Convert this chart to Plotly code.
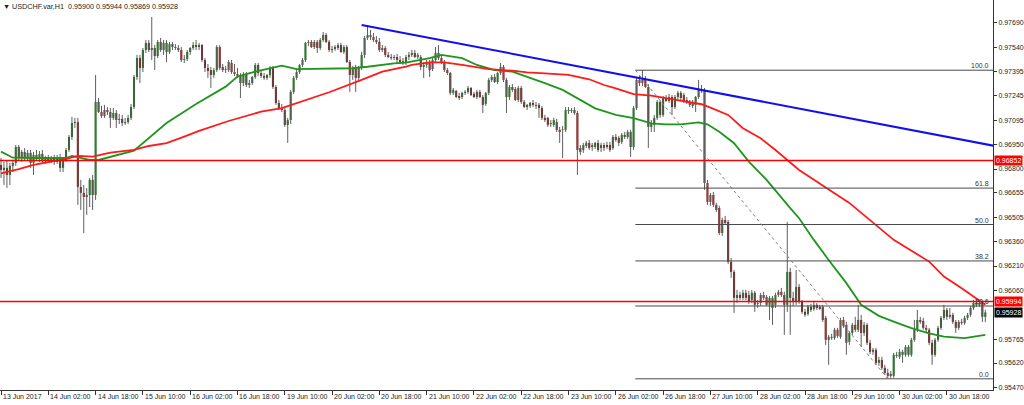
import plotly.graph_objects as go

# ---------------- data (hourly USDCHF candles, bar index 0..333) ----------------
opens = [
    0.96825, 0.96794, 0.96807, 0.96764, 0.96819, 0.96837, 0.96934, 0.96867, 0.96904, 0.96873,
    0.96898, 0.96837, 0.96886, 0.96873, 0.96892, 0.96855, 0.96867, 0.96855, 0.96861, 0.96843,
    0.96867, 0.96807, 0.96855, 0.96916, 0.96995, 0.97080, 0.97086, 0.96691, 0.96655, 0.96630,
    0.96642, 0.96734, 0.96642, 0.97208, 0.97147, 0.97123, 0.97159, 0.97147, 0.97111, 0.97141,
    0.97098, 0.97105, 0.97080, 0.97086, 0.97111, 0.97177, 0.97360, 0.97475, 0.97415, 0.97524,
    0.97567, 0.97524, 0.97536, 0.97487, 0.97573, 0.97524, 0.97567, 0.97512, 0.97560, 0.97542,
    0.97536, 0.97524, 0.97463, 0.97469, 0.97512, 0.97536, 0.97554, 0.97542, 0.97554, 0.97463,
    0.97415, 0.97402, 0.97372, 0.97402, 0.97542, 0.97421, 0.97402, 0.97402, 0.97445, 0.97390,
    0.97378, 0.97366, 0.97323, 0.97378, 0.97311, 0.97323, 0.97360, 0.97433, 0.97384, 0.97366,
    0.97354, 0.97372, 0.97415, 0.97299, 0.97202, 0.97171, 0.97159, 0.97068, 0.97098, 0.97269,
    0.97354, 0.97390, 0.97433, 0.97463, 0.97567, 0.97573, 0.97542, 0.97573, 0.97536, 0.97585,
    0.97615, 0.97573, 0.97524, 0.97530, 0.97536, 0.97554, 0.97512, 0.97542, 0.97451, 0.97372,
    0.97415, 0.97354, 0.97415, 0.97494, 0.97597, 0.97615, 0.97603, 0.97585, 0.97573, 0.97524,
    0.97536, 0.97494, 0.97481, 0.97475, 0.97481, 0.97463, 0.97451, 0.97445, 0.97481, 0.97494,
    0.97506, 0.97481, 0.97481, 0.97421, 0.97433, 0.97451, 0.97408, 0.97463, 0.97506, 0.97475,
    0.97451, 0.97402, 0.97384, 0.97263, 0.97275, 0.97244, 0.97238, 0.97263, 0.97269, 0.97293,
    0.97257, 0.97238, 0.97269, 0.97238, 0.97196, 0.97263, 0.97342, 0.97360, 0.97329, 0.97384,
    0.97421, 0.97342, 0.97238, 0.97299, 0.97287, 0.97220, 0.97293, 0.97208, 0.97177, 0.97184,
    0.97202, 0.97190, 0.97190, 0.97171, 0.97111, 0.97111, 0.97074, 0.97068, 0.97086, 0.97038,
    0.97038, 0.97038, 0.97159, 0.97153, 0.97159, 0.97141, 0.96928, 0.96916, 0.96940, 0.96959,
    0.96934, 0.96934, 0.96959, 0.96928, 0.96928, 0.96946, 0.96946, 0.96928, 0.96995, 0.96989,
    0.96965, 0.97007, 0.96995, 0.97025, 0.96934, 0.97171, 0.97342, 0.97323, 0.97342, 0.97299,
    0.97056, 0.97068, 0.97111, 0.97208, 0.97129, 0.97232, 0.97214, 0.97238, 0.97177, 0.97238,
    0.97263, 0.97250, 0.97220, 0.97208, 0.97202, 0.97190, 0.97238, 0.97281, 0.97275, 0.96715,
    0.96600, 0.96642, 0.96582, 0.96563, 0.96411, 0.96490, 0.96478, 0.96235, 0.96174, 0.96016,
    0.96034, 0.96016, 0.96047, 0.96034, 0.96004, 0.96047, 0.95980, 0.95986, 0.96034, 0.96022,
    0.95974, 0.96016, 0.95974, 0.96034, 0.96053, 0.96034, 0.95974, 0.96174, 0.96016, 0.95992,
    0.96083, 0.95992, 0.95931, 0.95919, 0.95962, 0.95949, 0.95974, 0.95962, 0.95962, 0.95895,
    0.95761, 0.95779, 0.95773, 0.95822, 0.95779, 0.95882, 0.95852, 0.95749, 0.95803, 0.95852,
    0.95822, 0.95882, 0.95803, 0.95852, 0.95743, 0.95688, 0.95700, 0.95621, 0.95639, 0.95591,
    0.95560, 0.95554, 0.95542, 0.95670, 0.95658, 0.95688, 0.95670, 0.95718, 0.95670, 0.95761,
    0.95822, 0.95882, 0.95876, 0.95834, 0.95822, 0.95743, 0.95670, 0.95761, 0.95834, 0.95895,
    0.95943, 0.95901, 0.95913, 0.95870, 0.95834, 0.95870, 0.95864, 0.95895, 0.95913, 0.95955,
    0.95986, 0.95974, 0.95980, 0.95900,
]
highs = [
    0.96867, 0.96843, 0.96855, 0.96837, 0.96855, 0.96946, 0.96946, 0.96916, 0.96928, 0.96916,
    0.96916, 0.96904, 0.96916, 0.96910, 0.96916, 0.96880, 0.96886, 0.96880, 0.96886, 0.96886,
    0.96892, 0.96855, 0.96928, 0.97007, 0.97117, 0.97111, 0.97111, 0.96734, 0.96703, 0.96685,
    0.96746, 0.96764, 0.97372, 0.97232, 0.97184, 0.97190, 0.97177, 0.97171, 0.97171, 0.97159,
    0.97135, 0.97129, 0.97111, 0.97129, 0.97196, 0.97372, 0.97494, 0.97494, 0.97536, 0.97585,
    0.97585, 0.97725, 0.97554, 0.97585, 0.97597, 0.97585, 0.97585, 0.97573, 0.97573, 0.97560,
    0.97554, 0.97542, 0.97494, 0.97524, 0.97542, 0.97573, 0.97585, 0.97567, 0.97560, 0.97475,
    0.97439, 0.97421, 0.97415, 0.97554, 0.97554, 0.97439, 0.97427, 0.97463, 0.97463, 0.97439,
    0.97415, 0.97384, 0.97390, 0.97390, 0.97342, 0.97366, 0.97445, 0.97445, 0.97402, 0.97384,
    0.97378, 0.97427, 0.97427, 0.97311, 0.97220, 0.97196, 0.97171, 0.97111, 0.97281, 0.97366,
    0.97402, 0.97439, 0.97475, 0.97573, 0.97585, 0.97585, 0.97585, 0.97585, 0.97597, 0.97633,
    0.97627, 0.97585, 0.97548, 0.97554, 0.97567, 0.97567, 0.97554, 0.97554, 0.97463, 0.97427,
    0.97433, 0.97427, 0.97512, 0.97609, 0.97676, 0.97646, 0.97627, 0.97609, 0.97597, 0.97554,
    0.97548, 0.97512, 0.97500, 0.97494, 0.97500, 0.97487, 0.97475, 0.97494, 0.97512, 0.97524,
    0.97524, 0.97506, 0.97494, 0.97451, 0.97463, 0.97463, 0.97475, 0.97542, 0.97554, 0.97494,
    0.97463, 0.97415, 0.97390, 0.97293, 0.97281, 0.97263, 0.97269, 0.97281, 0.97305, 0.97299,
    0.97269, 0.97281, 0.97281, 0.97250, 0.97269, 0.97354, 0.97372, 0.97378, 0.97390, 0.97445,
    0.97433, 0.97354, 0.97311, 0.97317, 0.97299, 0.97305, 0.97305, 0.97220, 0.97196, 0.97208,
    0.97220, 0.97208, 0.97202, 0.97184, 0.97129, 0.97117, 0.97098, 0.97111, 0.97105, 0.97056,
    0.97062, 0.97177, 0.97177, 0.97171, 0.97177, 0.97153, 0.96946, 0.96959, 0.96971, 0.96977,
    0.96959, 0.96965, 0.96977, 0.96959, 0.96959, 0.96965, 0.96965, 0.97007, 0.97013, 0.97001,
    0.97019, 0.97025, 0.97038, 0.97038, 0.97184, 0.97354, 0.97366, 0.97402, 0.97366, 0.97317,
    0.97098, 0.97129, 0.97220, 0.97220, 0.97244, 0.97250, 0.97257, 0.97250, 0.97250, 0.97275,
    0.97275, 0.97263, 0.97238, 0.97220, 0.97220, 0.97244, 0.97342, 0.97311, 0.97293, 0.96734,
    0.96655, 0.96661, 0.96594, 0.96576, 0.96503, 0.96515, 0.96490, 0.96259, 0.96186, 0.96065,
    0.96053, 0.96065, 0.96065, 0.96059, 0.96065, 0.96059, 0.96004, 0.96047, 0.96053, 0.96034,
    0.96028, 0.96028, 0.96047, 0.96065, 0.96077, 0.96053, 0.96478, 0.96199, 0.96053, 0.96186,
    0.96101, 0.96004, 0.95949, 0.95974, 0.95980, 0.95992, 0.95986, 0.95974, 0.95974, 0.95907,
    0.95791, 0.95797, 0.95834, 0.95834, 0.95895, 0.95901, 0.95870, 0.95815, 0.95864, 0.95901,
    0.95974, 0.95913, 0.95870, 0.95864, 0.95761, 0.95712, 0.95712, 0.95658, 0.95658, 0.95609,
    0.95585, 0.95572, 0.95682, 0.95688, 0.95706, 0.95700, 0.95730, 0.95730, 0.95773, 0.95882,
    0.95943, 0.95901, 0.95895, 0.95852, 0.95834, 0.95761, 0.95773, 0.95846, 0.95907, 0.95974,
    0.95955, 0.95955, 0.95925, 0.95882, 0.95882, 0.95889, 0.95907, 0.95925, 0.95968, 0.96004,
    0.96004, 0.96004, 0.95992, 0.95944,
]
lows = [
    0.96746, 0.96703, 0.96685, 0.96703, 0.96782, 0.96819, 0.96855, 0.96843, 0.96855, 0.96855,
    0.96807, 0.96764, 0.96855, 0.96843, 0.96837, 0.96831, 0.96837, 0.96837, 0.96825, 0.96831,
    0.96782, 0.96782, 0.96843, 0.96904, 0.96977, 0.97050, 0.96582, 0.96551, 0.96411, 0.96521,
    0.96569, 0.96551, 0.96612, 0.97141, 0.97111, 0.97111, 0.97129, 0.97050, 0.97098, 0.97050,
    0.97074, 0.97062, 0.97068, 0.97074, 0.97098, 0.97165, 0.97342, 0.97323, 0.97390, 0.97506,
    0.97512, 0.97463, 0.97402, 0.97475, 0.97512, 0.97494, 0.97451, 0.97500, 0.97524, 0.97524,
    0.97512, 0.97451, 0.97445, 0.97457, 0.97494, 0.97524, 0.97524, 0.97524, 0.97451, 0.97390,
    0.97354, 0.97293, 0.97354, 0.97390, 0.97402, 0.97390, 0.97384, 0.97390, 0.97378, 0.97366,
    0.97354, 0.97232, 0.97305, 0.97299, 0.97293, 0.97311, 0.97348, 0.97366, 0.97354, 0.97342,
    0.97342, 0.97354, 0.97287, 0.97190, 0.97159, 0.97147, 0.97056, 0.96959, 0.97074, 0.97257,
    0.97342, 0.97378, 0.97421, 0.97451, 0.97548, 0.97536, 0.97530, 0.97506, 0.97524, 0.97573,
    0.97567, 0.97512, 0.97506, 0.97518, 0.97524, 0.97506, 0.97500, 0.97445, 0.97269, 0.97342,
    0.97269, 0.97329, 0.97402, 0.97475, 0.97585, 0.97585, 0.97573, 0.97560, 0.97512, 0.97512,
    0.97481, 0.97475, 0.97463, 0.97463, 0.97445, 0.97439, 0.97433, 0.97433, 0.97463, 0.97481,
    0.97475, 0.97469, 0.97402, 0.97354, 0.97415, 0.97360, 0.97396, 0.97451, 0.97463, 0.97439,
    0.97390, 0.97372, 0.97250, 0.97250, 0.97232, 0.97220, 0.97226, 0.97250, 0.97257, 0.97244,
    0.97232, 0.97226, 0.97232, 0.97141, 0.97184, 0.97250, 0.97329, 0.97323, 0.97317, 0.97372,
    0.97329, 0.97141, 0.97220, 0.97269, 0.97214, 0.97208, 0.97196, 0.97171, 0.97159, 0.97171,
    0.97177, 0.97165, 0.97111, 0.97098, 0.97086, 0.97056, 0.97056, 0.97056, 0.97025, 0.96959,
    0.96867, 0.97025, 0.97135, 0.97141, 0.97129, 0.96764, 0.96886, 0.96898, 0.96928, 0.96916,
    0.96910, 0.96922, 0.96904, 0.96904, 0.96910, 0.96922, 0.96904, 0.96916, 0.96965, 0.96940,
    0.96952, 0.96983, 0.96983, 0.96873, 0.96916, 0.97159, 0.97305, 0.97305, 0.97293, 0.96928,
    0.97025, 0.97025, 0.97098, 0.97111, 0.97117, 0.97208, 0.97202, 0.97129, 0.97165, 0.97226,
    0.97220, 0.97202, 0.97196, 0.97177, 0.97171, 0.97147, 0.97226, 0.97263, 0.96673, 0.96582,
    0.96576, 0.96569, 0.96539, 0.96399, 0.96393, 0.96460, 0.96223, 0.96138, 0.95925, 0.95986,
    0.96004, 0.96004, 0.96004, 0.95980, 0.95986, 0.95931, 0.95955, 0.95968, 0.96004, 0.95968,
    0.95882, 0.95852, 0.95955, 0.96022, 0.96022, 0.95791, 0.95931, 0.95791, 0.95968, 0.95974,
    0.95980, 0.95919, 0.95901, 0.95907, 0.95931, 0.95937, 0.95943, 0.95943, 0.95870, 0.95730,
    0.95609, 0.95761, 0.95761, 0.95773, 0.95767, 0.95834, 0.95670, 0.95730, 0.95791, 0.95809,
    0.95809, 0.95718, 0.95785, 0.95730, 0.95676, 0.95670, 0.95609, 0.95603, 0.95578, 0.95548,
    0.95524, 0.95530, 0.95530, 0.95651, 0.95645, 0.95621, 0.95658, 0.95658, 0.95658, 0.95749,
    0.95809, 0.95858, 0.95822, 0.95809, 0.95730, 0.95609, 0.95658, 0.95749, 0.95822, 0.95882,
    0.95882, 0.95889, 0.95858, 0.95803, 0.95822, 0.95852, 0.95852, 0.95882, 0.95901, 0.95943,
    0.95962, 0.95962, 0.95870, 0.95869,
]
closes = [
    0.96794, 0.96807, 0.96764, 0.96819, 0.96837, 0.96934, 0.96867, 0.96904, 0.96873, 0.96898,
    0.96837, 0.96886, 0.96873, 0.96892, 0.96855, 0.96867, 0.96855, 0.96861, 0.96843, 0.96867,
    0.96807, 0.96855, 0.96916, 0.96995, 0.97080, 0.97086, 0.96691, 0.96655, 0.96630, 0.96642,
    0.96734, 0.96642, 0.97208, 0.97147, 0.97123, 0.97159, 0.97147, 0.97111, 0.97141, 0.97098,
    0.97105, 0.97080, 0.97086, 0.97111, 0.97177, 0.97360, 0.97475, 0.97415, 0.97524, 0.97567,
    0.97524, 0.97536, 0.97487, 0.97573, 0.97524, 0.97567, 0.97512, 0.97560, 0.97542, 0.97536,
    0.97524, 0.97463, 0.97469, 0.97512, 0.97536, 0.97554, 0.97542, 0.97554, 0.97463, 0.97415,
    0.97396, 0.97372, 0.97402, 0.97542, 0.97415, 0.97402, 0.97408, 0.97451, 0.97390, 0.97378,
    0.97366, 0.97323, 0.97378, 0.97311, 0.97323, 0.97360, 0.97433, 0.97384, 0.97366, 0.97354,
    0.97372, 0.97415, 0.97299, 0.97202, 0.97171, 0.97159, 0.97068, 0.97098, 0.97269, 0.97354,
    0.97390, 0.97433, 0.97463, 0.97567, 0.97573, 0.97542, 0.97573, 0.97536, 0.97585, 0.97615,
    0.97573, 0.97524, 0.97530, 0.97542, 0.97554, 0.97512, 0.97542, 0.97451, 0.97372, 0.97415,
    0.97354, 0.97415, 0.97494, 0.97597, 0.97615, 0.97603, 0.97585, 0.97573, 0.97524, 0.97536,
    0.97494, 0.97481, 0.97475, 0.97481, 0.97463, 0.97451, 0.97457, 0.97481, 0.97494, 0.97506,
    0.97481, 0.97494, 0.97421, 0.97433, 0.97445, 0.97402, 0.97463, 0.97506, 0.97475, 0.97445,
    0.97402, 0.97384, 0.97263, 0.97281, 0.97238, 0.97232, 0.97263, 0.97269, 0.97293, 0.97250,
    0.97238, 0.97269, 0.97238, 0.97190, 0.97263, 0.97342, 0.97360, 0.97329, 0.97384, 0.97421,
    0.97342, 0.97238, 0.97299, 0.97281, 0.97220, 0.97293, 0.97208, 0.97177, 0.97190, 0.97202,
    0.97190, 0.97184, 0.97171, 0.97111, 0.97098, 0.97068, 0.97080, 0.97098, 0.97038, 0.97025,
    0.97041, 0.97159, 0.97153, 0.97159, 0.97141, 0.96916, 0.96904, 0.96946, 0.96959, 0.96928,
    0.96946, 0.96959, 0.96916, 0.96946, 0.96946, 0.96934, 0.96916, 0.96995, 0.96977, 0.96959,
    0.97007, 0.96995, 0.97025, 0.96934, 0.97171, 0.97342, 0.97323, 0.97342, 0.97299, 0.97056,
    0.97080, 0.97111, 0.97208, 0.97129, 0.97232, 0.97214, 0.97238, 0.97177, 0.97238, 0.97263,
    0.97232, 0.97208, 0.97202, 0.97190, 0.97184, 0.97238, 0.97281, 0.97275, 0.96715, 0.96600,
    0.96642, 0.96582, 0.96551, 0.96411, 0.96490, 0.96472, 0.96235, 0.96174, 0.96016, 0.96034,
    0.96016, 0.96047, 0.96016, 0.95992, 0.96047, 0.95974, 0.95986, 0.96034, 0.96016, 0.95974,
    0.96016, 0.95955, 0.96034, 0.96053, 0.96034, 0.95974, 0.96174, 0.96016, 0.95992, 0.96083,
    0.95992, 0.95931, 0.95913, 0.95962, 0.95943, 0.95974, 0.95955, 0.95949, 0.95882, 0.95761,
    0.95779, 0.95773, 0.95822, 0.95785, 0.95882, 0.95846, 0.95743, 0.95803, 0.95852, 0.95822,
    0.95882, 0.95803, 0.95852, 0.95743, 0.95688, 0.95700, 0.95621, 0.95639, 0.95591, 0.95560,
    0.95542, 0.95542, 0.95670, 0.95664, 0.95688, 0.95670, 0.95718, 0.95670, 0.95761, 0.95822,
    0.95882, 0.95870, 0.95834, 0.95822, 0.95743, 0.95670, 0.95761, 0.95834, 0.95895, 0.95943,
    0.95901, 0.95913, 0.95870, 0.95834, 0.95870, 0.95864, 0.95895, 0.95913, 0.95955, 0.95986,
    0.95974, 0.95986, 0.95901, 0.95928,
]

# moving averages (sampled at bar indices)
ma_green_idx = [0, 4, 10, 16, 22, 24, 27, 30, 33, 45, 56, 66, 76, 80, 86, 93, 95, 100, 111, 119,
                124, 133, 137, 139, 145, 149, 156, 161, 167, 173, 178, 184, 190, 195, 201, 208, 214,
                220, 225, 230, 236, 239, 243, 248, 253, 259, 264, 267, 270, 275, 280, 286, 291, 297,
                302, 308, 314, 319, 326, 330, 333]
ma_green = [0.96906, 0.96869, 0.96867, 0.96867, 0.96867, 0.96880, 0.96867, 0.96855, 0.96855, 0.96912,
            0.97080, 0.97195, 0.97301, 0.97362, 0.97392, 0.97423, 0.97429, 0.97408, 0.97413, 0.97413,
            0.97422, 0.97443, 0.97447, 0.97453, 0.97474, 0.97494, 0.97474, 0.97433, 0.97402, 0.97392,
            0.97362, 0.97322, 0.97281, 0.97230, 0.97169, 0.97129, 0.97109, 0.97078, 0.97072, 0.97072,
            0.97084, 0.97072, 0.97027, 0.96957, 0.96845, 0.96734, 0.96622, 0.96562, 0.96501, 0.96369,
            0.96247, 0.96106, 0.95974, 0.95907, 0.95872, 0.95832, 0.95801, 0.95781, 0.95771, 0.95781,
            0.95791]
ma_red_idx = [0, 6, 11, 17, 22, 26, 31, 37, 45, 50, 56, 62, 67, 77, 88, 95, 100, 111, 122, 129,
              137, 139, 145, 150, 156, 165, 173, 178, 184, 192, 199, 204, 208, 214, 220, 225, 231,
              237, 240, 246, 251, 257, 262, 268, 270, 287, 302, 314, 319, 325, 330, 333]
ma_red = [0.96774, 0.96799, 0.96825, 0.96845, 0.96861, 0.96880, 0.96875, 0.96900, 0.96916, 0.96940,
          0.96957, 0.96997, 0.97032, 0.97092, 0.97149, 0.97170, 0.97200, 0.97267, 0.97342, 0.97392,
          0.97423, 0.97433, 0.97449, 0.97449, 0.97433, 0.97407, 0.97398, 0.97388, 0.97382, 0.97372,
          0.97346, 0.97311, 0.97291, 0.97255, 0.97246, 0.97230, 0.97210, 0.97194, 0.97173, 0.97129,
          0.97048, 0.96987, 0.96916, 0.96825, 0.96794, 0.96594, 0.96369, 0.96237, 0.96146, 0.96075,
          0.96014, 0.95974]

# drawn objects
hline_levels = [0.96852, 0.95994]
trend_idx = [122, 336]
trend_price = [0.97676, 0.96941]
fib_idx = [214.6, 300]
fib_price = [0.97401, 0.95524]
fib_levels = [0.0, 23.6, 38.2, 50.0, 61.8, 100.0]
last_price = 0.95928

x_tick_idx = list(range(0, 321, 16))
x_tick_labels = ["13 Jun 2017", "14 Jun 02:00", "14 Jun 18:00", "15 Jun 10:00", "16 Jun 02:00",
                 "16 Jun 18:00", "19 Jun 10:00", "20 Jun 02:00", "20 Jun 18:00", "21 Jun 10:00",
                 "22 Jun 02:00", "22 Jun 18:00", "23 Jun 10:00", "26 Jun 02:00", "26 Jun 18:00",
                 "27 Jun 10:00", "28 Jun 02:00", "28 Jun 18:00", "29 Jun 10:00", "30 Jun 02:00",
                 "30 Jun 18:00"]
y_ticks = [0.95470, 0.95620, 0.95765, 0.96060, 0.96210, 0.96360, 0.96505, 0.96655, 0.96800,
           0.96950, 0.97095, 0.97245, 0.97395, 0.97540, 0.97690]

# ---------------- figure ----------------
FONT = "Liberation Sans, Arial, sans-serif"
bar_idx = list(range(len(closes)))

wick_x, wick_y = [], []
for i in bar_idx:
    wick_x += [i, i, None]
    wick_y += [lows[i], highs[i], None]

body_base = [min(o, c) for o, c in zip(opens, closes)]
body_len = [max(abs(c - o), 0.00004) for o, c in zip(opens, closes)]
body_col = ["#1c6a1c" if c >= o else "#7a1212" for o, c in zip(opens, closes)]

fig = go.Figure()
fig.add_trace(go.Scatter(x=wick_x, y=wick_y, mode="lines",
                         line=dict(color="#5e5e5e", width=1), hoverinfo="skip"))
fig.add_trace(go.Bar(x=bar_idx, y=body_len, base=body_base, width=0.7,
                     marker=dict(color=body_col, line=dict(width=0)), hoverinfo="skip"))

fig.add_trace(go.Scatter(x=ma_green_idx, y=ma_green, mode="lines",
                         line=dict(color="#1e961e", width=1.8), hoverinfo="skip"))
fig.add_trace(go.Scatter(x=ma_red_idx, y=ma_red, mode="lines",
                         line=dict(color="#ff1a1a", width=1.8), hoverinfo="skip"))

# fibonacci retracement
fib_span = fib_price[0] - fib_price[1]
annotations = []
for lv in fib_levels:
    p = fib_price[1] + lv / 100.0 * fib_span
    fig.add_trace(go.Scatter(x=[fib_idx[0], 340], y=[p, p], mode="lines",
                             line=dict(color="#4a4a4a", width=1), hoverinfo="skip"))
    annotations.append(dict(x=1, xref="paper", y=p, yref="y", text=f"{lv:.1f}",
                            showarrow=False, xanchor="right", yanchor="bottom",
                            xshift=-2, yshift=-1,
                            font=dict(family=FONT, size=7, color="#333333")))
fig.add_trace(go.Scatter(x=fib_idx, y=fib_price, mode="lines",
                         line=dict(color="#808080", width=1, dash="3px,3px"), hoverinfo="skip"))

# horizontal lines
for lvl in hline_levels:
    fig.add_trace(go.Scatter(x=[-2, 340], y=[lvl, lvl], mode="lines",
                             line=dict(color="#ff0000", width=1.6), hoverinfo="skip"))

# blue trendline
fig.add_trace(go.Scatter(x=trend_idx, y=trend_price, mode="lines",
                         line=dict(color="#1010ee", width=2), hoverinfo="skip"))

# x axis labels (left aligned at tick, like MT4)
for xi, lab in zip(x_tick_idx, x_tick_labels):
    annotations.append(dict(x=xi, xref="x", y=0, yref="paper", text=lab, showarrow=False,
                            xanchor="left", yanchor="top", xshift=0, yshift=-1,
                            font=dict(family=FONT, size=7, color="#222222")))

# price boxes on the axis
for lvl in hline_levels:
    annotations.append(dict(x=1, xref="paper", y=lvl, yref="y", text=f"{lvl:.5f}",
                            showarrow=False, xanchor="left", yanchor="middle", xshift=1,
                            bgcolor="#ff0000", borderpad=1,
                            font=dict(family=FONT, size=7, color="#ffffff")))
annotations.append(dict(x=1, xref="paper", y=last_price, yref="y", text=f"{last_price:.5f}",
                        showarrow=False, xanchor="left", yanchor="middle", xshift=1,
                        bgcolor="#000000", borderpad=1,
                        font=dict(family=FONT, size=7, color="#ffffff")))

# title
annotations.append(dict(x=0, xref="paper", y=1, yref="paper",
                        text="\u25bc\u00a0USDCHF.var,H1\u00a0\u00a0"
                             f"{opens[-1]:.5f} {highs[-1]:.5f} {lows[-1]:.5f} {closes[-1]:.5f}",
                        showarrow=False, xanchor="left", yanchor="top", xshift=1, yshift=0,
                        font=dict(family=FONT, size=7.2, color="#222222")))

fig.update_layout(
    width=1024, height=405,
    margin=dict(l=0, r=31, t=0, b=15),
    paper_bgcolor="white", plot_bgcolor="white",
    showlegend=False, hovermode=False,
    annotations=annotations,
    xaxis=dict(range=[-0.34, 335.6], showgrid=False, zeroline=False,
               showline=True, linecolor="#333333", linewidth=1,
               tickvals=x_tick_idx, ticks="outside", ticklen=4, tickcolor="#333333",
               showticklabels=False),
    yaxis=dict(range=[0.95456, 0.97828], side="right", showgrid=False, zeroline=False,
               showline=True, linecolor="#333333", linewidth=1,
               tickvals=y_ticks, ticktext=[f"{v:.5f}" for v in y_ticks],
               ticks="outside", ticklen=3, tickcolor="#333333",
               tickfont=dict(family=FONT, size=7, color="#222222")),
)

fig.write_html("out.html",
               config={"displayModeBar": False, "staticPlot": True},
               post_script="document.body.style.margin='0';document.body.style.overflow='hidden';")
